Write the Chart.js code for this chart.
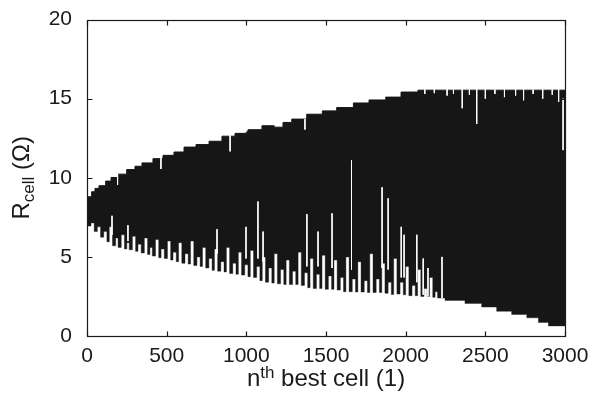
<!DOCTYPE html>
<html><head><meta charset="utf-8">
<script src="https://cdn.jsdelivr.net/npm/chart.js@4/dist/chart.umd.min.js"></script>
<style>html,body{margin:0;padding:0;background:#fff}</style>
</head><body>
<canvas id="c" width="594" height="407"></canvas>
<script>
// ---- data ----
const xTicks = [0, 500, 1000, 1500, 2000, 2500, 3000];
const yTicks = [0, 5, 10, 15, 20];

// upper edge of the oscillation band (step starts)
const upperX = [0,29,50,75,117,151,195,249,301,345,414,477,546,609,684,766,847,929,1000,1010,1098,1175,1230,1285,1379,1477,1567,1672,1770,1875,1971,2077,3000];
const upperY = [8.8,9.12,9.33,9.5,9.79,10.02,10.23,10.52,10.73,10.94,11.21,11.42,11.63,11.94,12.1,12.31,12.63,12.81,12.9,13.04,13.29,13.2,13.5,13.71,14.02,14.23,14.44,14.73,14.92,15.1,15.42,15.54,15.54];

// lower edge of the band (spike bottoms alternating with notch tops)
const lowerX = [0,25,45,65,85,105,125,140,160,180,195,215,235,250,265,285,305,320,340,360,380,395,410,430,450,465,485,505,525,540,560,575,595,615,635,650,670,690,710,725,745,765,785,800,820,840,860,875,895,915,935,950,970,990,1010,1025,1045,1065,1085,1100,1120,1140,1160,1175,1195,1215,1235,1250,1270,1290,1310,1325,1345,1365,1385,1400,1420,1440,1460,1475,1495,1515,1535,1550,1570,1590,1610,1625,1645,1665,1685,1700,1720,1740,1760,1775,1795,1815,1835,1850,1870,1890,1910,1925,1945,1965,1985,2000,2020,2040,2060,2075,2095,2115,2135,2150,2170,2185,2200,2247,2372,2477,2571,2665,2760,2833,2896,3000];
const lowerY = [6.95,7.15,6.6,6.9,6.25,6.6,5.95,6.9,5.7,6.2,5.6,6.4,5.5,5.9,5.45,6.3,5.35,5.8,5.25,6.2,5.15,5.6,5.05,6.1,4.95,5.5,4.9,6.0,4.8,5.3,4.7,5.9,4.6,5.2,4.55,6.0,4.45,5.0,4.4,5.6,4.3,4.9,4.15,5.5,4.1,4.7,4.05,5.6,3.95,4.6,3.9,5.3,3.85,4.5,3.75,5.4,3.7,4.4,3.5,5.0,3.4,4.3,3.35,5.2,3.3,4.2,3.25,4.8,3.25,4.1,3.25,5.3,3.2,4.0,3.05,4.9,3.0,3.9,3.0,5.1,2.95,3.8,2.95,4.8,2.9,3.7,2.8,5.0,2.8,3.6,2.78,4.7,2.78,3.5,2.75,5.2,2.75,3.6,2.75,4.6,2.7,3.4,2.62,4.9,2.65,3.4,2.6,4.4,2.55,3.2,2.55,4.2,2.5,3.0,2.5,3.7,2.45,2.8,2.4,2.25,2.06,1.83,1.56,1.36,1.15,0.86,0.64,0.64];

// visible white gaps inside the band
const gapX      = [157,192,257,464,816,898,998,1073,1105,1368,1380,1450,1538,1660,1852,1890,1972,1990,2070,2110,2140,2228,2355,2446,2988,2120,2180,2260,2300,2400,2500,2560,2620,2690,2740,2800,2860,2920,2960];
const gapTop    = [7.6,10.23,7.0,11.42,6.75,12.81,6.9,8.5,6.6,13.71,7.7,6.6,7.75,11.1,9.4,8.7,6.9,6.4,6.4,4.9,4.3,5.0,15.6,15.6,15.0,15.6,15.6,15.6,15.6,15.6,15.6,15.6,15.6,15.6,15.6,15.6,15.6,15.6,15.6];
const gapBottom = [6.4,9.56,6.0,10.56,5.2,11.67,4.9,4.9,4.7,13.05,4.4,4.4,4.3,4.2,4.3,4.2,3.7,3.7,3.4,2.6,2.5,2.4,14.4,13.4,11.75,15.3,15.35,15.2,15.3,15.25,15.0,15.3,15.1,15.2,14.9,15.3,15.0,15.25,14.8];

// ---- build datasets ----
const INK = '#161616';
const TXT = '#1a1a1a';
const upperData = upperX.map((x, i) => ({x, y: upperY[i]}));
const lowerData = lowerX.map((x, i) => ({x, y: lowerY[i]}));
const gapData = [];
gapX.forEach((x, i) => { gapData.push({x, y: gapTop[i]}, {x, y: gapBottom[i]}, {x, y: null}); });

const FONT = '"Liberation Sans", Arial, Helvetica, sans-serif';

const framePlugin = {
  id: 'frame',
  afterDraw(chart) {
    const {ctx, chartArea: a, scales: {x, y}} = chart;
    ctx.save();
    ctx.strokeStyle = TXT;
    ctx.lineWidth = 1.2;
    const L = Math.round(a.left) + 0.5, R = Math.round(a.right) + 0.5;
    const T = Math.round(a.top) + 0.5, B = Math.round(a.bottom) + 0.5;
    ctx.strokeRect(L, T, R - L, B - T);
    ctx.beginPath();
    xTicks.forEach(v => {
      const p = Math.round(x.getPixelForValue(v)) + 0.5;
      ctx.moveTo(p, B); ctx.lineTo(p, B - 5);
      ctx.moveTo(p, T); ctx.lineTo(p, T + 5);
    });
    yTicks.forEach(v => {
      const p = Math.round(y.getPixelForValue(v)) + 0.5;
      ctx.moveTo(L, p); ctx.lineTo(L + 5, p);
      ctx.moveTo(R, p); ctx.lineTo(R - 5, p);
    });
    ctx.stroke();

    // x title: n^th best cell (1)
    ctx.fillStyle = TXT;
    ctx.textBaseline = 'alphabetic';
    ctx.textAlign = 'left';
    const big = '24px ' + FONT, small = '17px ' + FONT;
    const parts = [['n', big, 0], ['th', small, -8], [' best cell (1)', big, 0]];
    let w = 0;
    parts.forEach(p => { ctx.font = p[1]; w += ctx.measureText(p[0]).width; });
    let cx = (a.left + a.right) / 2 - w / 2;
    parts.forEach(p => { ctx.font = p[1]; ctx.fillText(p[0], cx, 386 + p[2]); cx += ctx.measureText(p[0]).width; });

    // y title: R_cell (Ω)
    ctx.translate(29, (a.top + a.bottom) / 2);
    ctx.rotate(-Math.PI / 2);
    const yparts = [['R', big, 0], ['cell', small, 5], [' (\u03A9)', big, 0]];
    w = 0;
    yparts.forEach(p => { ctx.font = p[1]; w += ctx.measureText(p[0]).width; });
    cx = -w / 2;
    yparts.forEach(p => { ctx.font = p[1]; ctx.fillText(p[0], cx, p[2]); cx += ctx.measureText(p[0]).width; });
    ctx.restore();
  }
};

new Chart(document.getElementById('c'), {
  type: 'line',
  data: {
    datasets: [
      { data: upperData, stepped: true, borderColor: INK, borderWidth: 1, backgroundColor: INK,
        fill: 1, pointRadius: 0, order: 2 },
      { data: lowerData, stepped: true, borderColor: INK, borderWidth: 0.4, backgroundColor: INK,
        fill: false, pointRadius: 0, order: 2 },
      { data: gapData, borderColor: '#ffffff', borderWidth: 1, fill: false, pointRadius: 0,
        spanGaps: false, order: 0 }
    ]
  },
  options: {
    responsive: false,
    animation: false,
    devicePixelRatio: 1,
    layout: { padding: { left: 0, top: 16, right: 29, bottom: 0 } },
    plugins: { legend: { display: false }, tooltip: { enabled: false } },
    scales: {
      x: {
        type: 'linear', min: 0, max: 3000,
        grid: { display: false }, border: { display: false },
        afterBuildTicks: s => { s.ticks = xTicks.map(v => ({value: v})); },
        afterFit: s => { s.height = 71; },
        ticks: { color: TXT, font: { family: FONT, size: 21 }, padding: 0, maxRotation: 0, autoSkip: false,
                 callback: v => String(v) }
      },
      y: {
        type: 'linear', min: 0, max: 20,
        grid: { display: false }, border: { display: false },
        afterBuildTicks: s => { s.ticks = yTicks.map(v => ({value: v})); },
        afterFit: s => { s.width = 87; },
        ticks: { color: TXT, font: { family: FONT, size: 21 }, padding: 7, callback: v => String(v) }
      }
    }
  },
  plugins: [framePlugin]
});
</script>
</body></html>
